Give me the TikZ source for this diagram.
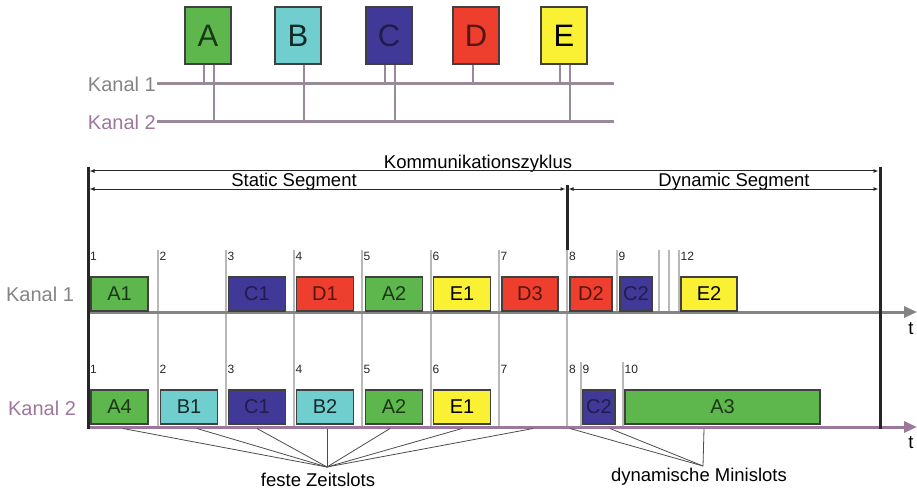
\documentclass[tikz,border=0pt]{standalone}
\usepackage{fontspec}
\setmainfont{Liberation Sans}
\usetikzlibrary{arrows.meta}

\definecolor{grn}{RGB}{94,183,76}
\definecolor{cyn}{RGB}{112,206,206}
\definecolor{blu}{RGB}{64,57,152}
\definecolor{rd}{RGB}{238,62,46}
\definecolor{yel}{RGB}{250,240,52}
\definecolor{busgray}{RGB}{152,138,152}
\definecolor{kgray}{RGB}{132,132,132}
\definecolor{kpurp}{RGB}{156,120,156}
\definecolor{slotgray}{RGB}{184,184,184}

\begin{document}
\begin{tikzpicture}
		[x=1pt,y=-1pt,
		ecu/.style ={rectangle, draw=black!75, line width=1.2pt, minimum width=46pt, minimum height=57pt, inner sep=0pt, font=\fontsize{31}{31}\selectfont},
		frm/.style ={rectangle, draw=black!75, line width=1.2pt, minimum width=57pt, minimum height=34pt, inner sep=0pt, font=\fontsize{20}{20}\selectfont},
		slotA/.style ={fill=grn, text=grn!30!black},
		slotB/.style ={fill=cyn, text=cyn!20!black},
		slotC/.style ={fill=blu, text=blu!50!black},
		slotD/.style ={fill=rd, text=rd!35!black},
		slotE/.style ={fill=yel, text=black},
		lbl/.style ={inner sep=1pt, font=\fontsize{18.5}{18.5}\selectfont},
		chan/.style ={inner sep=1pt, font=\fontsize{20}{20}\selectfont},
		num/.style ={anchor=west, inner sep=0.5pt, text=black!85, font=\fontsize{12}{12}\selectfont},
		busline/.style ={draw=busgray, line width=3pt},
		stub/.style ={draw=busgray, line width=2.5pt},
		slotline/.style ={draw=slotgray, line width=1.5pt},
		bar/.style ={draw=black!85, line width=3pt},
		span/.style ={draw=black!85, line width=1pt, {Latex[length=5pt,width=4pt]}-{Latex[length=5pt,width=4pt]}},
		axis1/.style ={draw=kgray, line width=3pt, -{Triangle[length=13pt,width=11pt]}},
		axis2/.style ={draw=kpurp, line width=3pt, -{Triangle[length=13pt,width=11pt]}},
		callout/.style ={draw=black!70, line width=0.8pt},
		]
		\useasboundingbox (0,0) rectangle (917,489);

		\coordinate (k1a) at (157,84);
		\coordinate (k1b) at (614,84);
		\coordinate (k2a) at (157,122);
		\coordinate (k2b) at (614,122);
		\draw (k1a) node[chan, anchor=east, text=kgray] (kt1) {Kanal 1};
		\draw (k2a) node[chan, anchor=east, text=kpurp] (kt2) {Kanal 2};

		\draw (208,35.5) node[ecu, slotA] (A) {A};
		\draw (298,35.5) node[ecu, slotB] (B) {B};
		\draw (389,35.5) node[ecu, slotC] (C) {C};
		\draw (476,35.5) node[ecu, slotD] (D) {D};
		\draw (564,35.5) node[ecu, slotE] (E) {E};

		\path (A.south) ++(-4,0) coordinate (As1) ++(10,0) coordinate (As2);
		\path (B.south) ++(6,0) coordinate (Bs2);
		\path (C.south) ++(-4,0) coordinate (Cs1) ++(10,0) coordinate (Cs2);
		\path (D.south) ++(-3,0) coordinate (Ds1);
		\path (E.south) ++(-4,0) coordinate (Es1) ++(10,0) coordinate (Es2);
		\path[stub]
		(As1) edge (As1 |- k1a)
		(As2) edge (As2 |- k2a)
		(Bs2) edge (Bs2 |- k2a)
		(Cs1) edge (Cs1 |- k1a)
		(Cs2) edge (Cs2 |- k2a)
		(Ds1) edge (Ds1 |- k1a)
		(Es1) edge (Es1 |- k1a)
		(Es2) edge (Es2 |- k2a);
		\draw[busline] (k1a) -- (k1b);
		\draw[busline] (k2a) -- (k2b);

		\draw (478,168) node[lbl, anchor=base] (kz) {Kommunikationszyklus};
		\draw (294,186.5) node[lbl, anchor=base] (ss) {Static Segment};
		\draw (734,186.5) node[lbl, anchor=base] (ds) {Dynamic Segment};
		\draw[span] (89.5,171) -- (878.5,171);
		\draw[span] (89.5,189) -- (565.5,189);
		\draw[span] (568.5,189) -- (878.5,189);

		\draw (40,294) node[chan, text=kgray] (kl1) {Kanal 1};
		\draw (42,408) node[chan, text=kpurp] (kl2) {Kanal 2};

		\draw[slotline] (158,250) -- (158,427);
		\draw[slotline] (226,250) -- (226,427);
		\draw[slotline] (294,250) -- (294,427);
		\draw[slotline] (362,250) -- (362,427);
		\draw[slotline] (431,250) -- (431,427);
		\draw[slotline] (499,250) -- (499,427);
		\draw[slotline] (567,250) -- (567,427);
		\draw[slotline] (617,250) -- (617,312);
		\draw[slotline] (659,250) -- (659,312);
		\draw[slotline] (669,250) -- (669,312);
		\draw[slotline] (679,250) -- (679,312);
		\draw[slotline] (581,362) -- (581,427);
		\draw[slotline] (623,362) -- (623,427);

		\draw[axis1] (88,312) -- (917,312);
		\draw[axis2] (88,427) -- (917,427);
		\draw[bar] (88,167) -- (88,428.5);
		\draw[bar] (880,167) -- (880,428.5);
		\draw[bar] (567,185) -- (567,250);
		\draw (911,329) node[lbl] (t1) {t};
		\draw (911,443) node[lbl] (t2) {t};

		\draw (89.5,256) node[num] (m11) {1};
		\draw (159,256) node[num] (m12) {2};
		\draw (227,256) node[num] (m13) {3};
		\draw (295,256) node[num] (m14) {4};
		\draw (363,256) node[num] (m15) {5};
		\draw (432,256) node[num] (m16) {6};
		\draw (500,256) node[num] (m17) {7};
		\draw (568.5,256) node[num] (m18) {8};
		\draw (618,256) node[num] (m19) {9};
		\draw (680,256) node[num] (m112) {12};

		\draw (89.5,369) node[num] (m21) {1};
		\draw (159,369) node[num] (m22) {2};
		\draw (227,369) node[num] (m23) {3};
		\draw (295,369) node[num] (m24) {4};
		\draw (363,369) node[num] (m25) {5};
		\draw (432,369) node[num] (m26) {6};
		\draw (500,369) node[num] (m27) {7};
		\draw (568.5,369) node[num] (m28) {8};
		\draw (582,369) node[num] (m29) {9};
		\draw (624,369) node[num] (m210) {10};

		\draw (119.5,294) node[frm, slotA] (k1A1) {A1};
		\draw (257,294) node[frm, slotC] (k1C1) {C1};
		\draw (325,294) node[frm, slotD] (k1D1) {D1};
		\draw (394,294) node[frm, slotA] (k1A2) {A2};
		\draw (462,294) node[frm, slotE] (k1E1) {E1};
		\draw (530,294) node[frm, slotD, minimum width=56pt] (k1D3) {D3};
		\draw (591,294) node[frm, slotD, minimum width=42pt] (k1D2) {D2};
		\draw (636,294) node[frm, slotC, minimum width=32pt] (k1C2) {C2};
		\draw (709,294) node[frm, slotE, minimum width=56pt] (k1E2) {E2};

		\draw (119.5,407) node[frm, slotA] (k2A4) {A4};
		\draw (189,407) node[frm, slotB] (k2B1) {B1};
		\draw (257,407) node[frm, slotC] (k2C1) {C1};
		\draw (325,407) node[frm, slotB] (k2B2) {B2};
		\draw (394,407) node[frm, slotA] (k2A2) {A2};
		\draw (462,407) node[frm, slotE] (k2E1) {E1};
		\draw (599,407) node[frm, slotC, minimum width=32pt] (k2C2) {C2};
		\draw (722.5,407) node[frm, slotA, minimum width=195pt] (k2A3) {A3};

		\draw (318,480) node[lbl] (fz) {feste Zeitslots};
		\draw (699,477) node[lbl] (dm) {dynamische Minislots};
		\coordinate (fzp) at (327,467);
		\coordinate (dmp) at (703,466);
		\coordinate (f1) at (123,428.5);
		\coordinate (f2) at (197,428.5);
		\coordinate (f3) at (257,428.5);
		\coordinate (f4) at (327,428.5);
		\coordinate (f5) at (390,428.5);
		\coordinate (f6) at (462,428.5);
		\coordinate (f7) at (533,428.5);
		\coordinate (d1) at (570,428.5);
		\coordinate (d2) at (610,428.5);
		\coordinate (d3) at (704,428.5);
		\path[callout]
		(f1) edge (fzp)
		(f2) edge (fzp)
		(f3) edge (fzp)
		(f4) edge (fzp)
		(f5) edge (fzp)
		(f6) edge (fzp)
		(f7) edge (fzp)
		(d1) edge (dmp)
		(d2) edge (dmp)
		(d3) edge (dmp);

	\end{tikzpicture}
\end{document}
